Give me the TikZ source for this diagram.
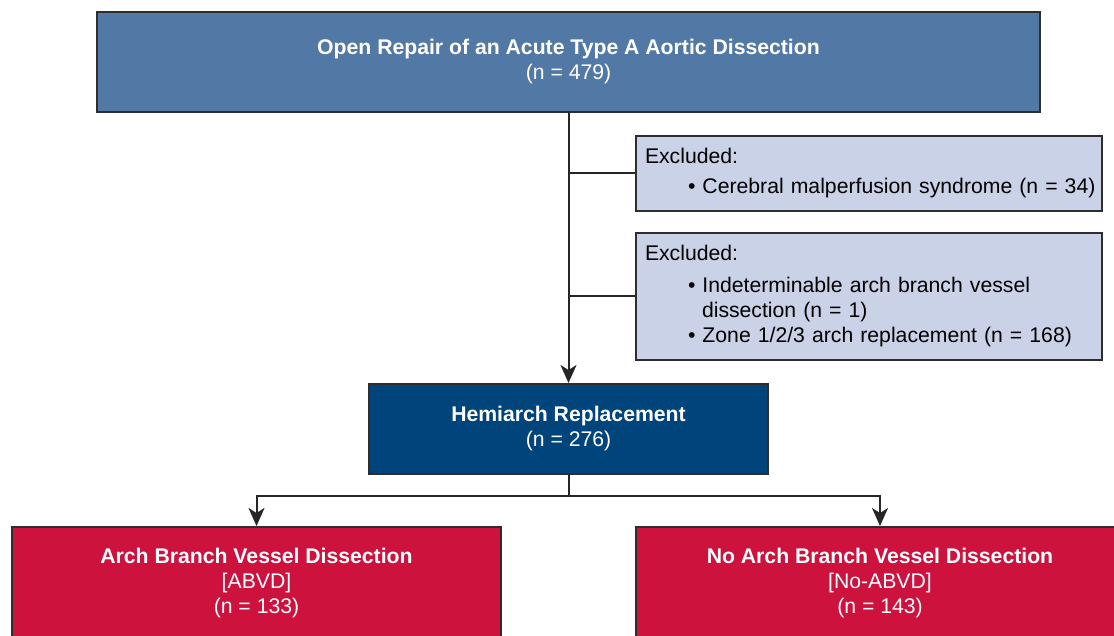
\documentclass[tikz,border=0pt]{standalone}
\usepackage{fontspec}
\setmainfont{Liberation Sans}
\usetikzlibrary{arrows.meta}
\definecolor{topblue}{HTML}{5279A6}
\definecolor{hemiblue}{HTML}{00447C}
\definecolor{exfill}{HTML}{C9D2E6}
\definecolor{redbox}{HTML}{CC123D}
\definecolor{edgegray}{HTML}{2E2E2E}
\begin{document}
\begin{tikzpicture}[x=1pt,y=-1pt,
  box/.style={draw=edgegray,line width=2pt,inner sep=0pt,align=center,text=white,font=\fontsize{21.2}{25}\selectfont},
  exbox/.style={draw=edgegray,line width=2pt,fill=exfill,align=left,inner xsep=9pt,inner ysep=0pt,font=\fontsize{21.2}{25}\selectfont},
  link/.style={line width=2pt,draw=black!85},
  arr/.style={link,-{Stealth[length=18pt,width=16pt,inset=5pt]}}]
\useasboundingbox (0,0) rectangle (1114,636);
\clip (0,0) rectangle (1114,636);
\node (top) at (568.5,62) [box,fill=topblue,minimum width=943pt,minimum height=100pt] {\textbf{Open Repair of an Acute Type A Aortic Dissection}\\(n = 479)};
\node (ex1) at (869,173.5) [exbox,text width=448pt,minimum height=75pt] {Excluded:\\[5pt]\hspace*{43pt}\mbox{\textbullet\ Cerebral malperfusion syndrome (n = 34)}};
\node (ex2) at (869,296.5) [exbox,text width=448pt,minimum height=127pt] {Excluded:\\[7pt]\hspace*{43pt}\textbullet\ Indeterminable arch branch vessel\\\hspace*{57pt}dissection (n = 1)\\\hspace*{43pt}\textbullet\ Zone 1/2/3 arch replacement (n = 168)};
\node (hemi) at (568.5,429) [box,fill=hemiblue,minimum width=399pt,minimum height=90pt] {\textbf{Hemiarch Replacement}\\(n = 276)};
\node (abvd) at (256.5,583.5) [box,fill=redbox,minimum width=489pt,minimum height=113pt] {\textbf{Arch Branch Vessel Dissection}\\{[ABVD]}\\(n = 133)};
\node (noabvd) at (880,583.5) [box,fill=redbox,minimum width=488pt,minimum height=113pt] {\textbf{No Arch Branch Vessel Dissection}\\{[No-ABVD]}\\(n = 143)};
\coordinate (split) at (568.5,496);
\draw[arr] (top.south) -- (hemi.north);
\draw[link] (top.south |- ex1.west) -- (ex1.west);
\draw[link] (top.south |- ex2.west) -- (ex2.west);
\draw[link] (hemi.south) -- (split);
\draw[arr] (split) -| (abvd.north);
\draw[arr] (split) -| (noabvd.north);
\end{tikzpicture}
\end{document}
